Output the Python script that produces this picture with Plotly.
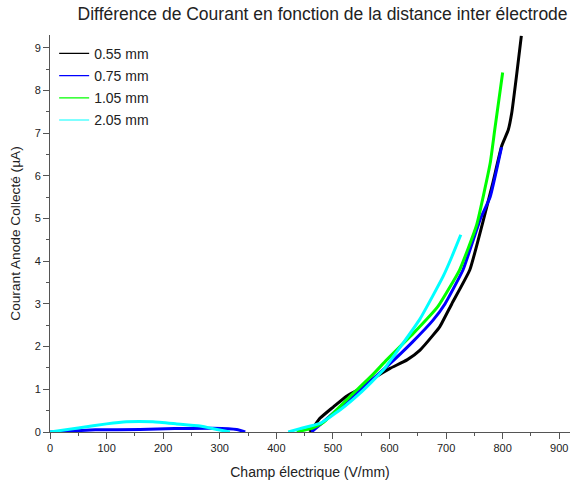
import plotly.graph_objects as go

# 0.55 mm
x_055 = [459, 465, 477, 501, 524, 548, 577, 601, 631, 654, 677, 689, 710, 742, 766, 782, 798, 810, 816, 825, 833]
y_055 = [0, 0.1, 0.32, 0.59, 0.84, 1.02, 1.30, 1.49, 1.69, 1.92, 2.27, 2.47, 3.0, 3.8, 4.97, 5.8, 6.69, 7.08, 7.47, 8.4, 9.28]

# 0.75 mm (low field part + high field part)
x_075_low = [0, 30, 80, 159, 220, 288, 330, 345]
y_075_low = [0, 0.02, 0.05, 0.06, 0.08, 0.09, 0.06, 0]
x_075 = [462, 480, 507, 542, 595, 640, 677, 698, 730, 760, 778, 798]
y_075 = [0, 0.2, 0.52, 0.91, 1.53, 2.1, 2.62, 3.0, 3.8, 4.97, 5.51, 6.67]

# 1.05 mm
x_105 = [436, 465, 483, 530, 571, 595, 642, 686, 724, 754, 778, 786, 800]
y_105 = [0, 0.1, 0.22, 0.83, 1.35, 1.69, 2.31, 2.95, 3.8, 4.85, 6.3, 7.08, 8.42]

# 2.05 mm (low field part + high field part)
x_205_low = [0, 53, 100, 135, 182, 224, 265, 295, 318]
y_205_low = [0, 0.1, 0.19, 0.24, 0.24, 0.19, 0.14, 0.06, 0]
x_205 = [421, 442, 477, 513, 548, 589, 624, 654, 677, 695, 710, 726]
y_205 = [0, 0.08, 0.2, 0.52, 0.91, 1.45, 2.08, 2.65, 3.2, 3.65, 4.1, 4.62]

labels = ['0.55 mm', '0.75 mm', '1.05 mm', '2.05 mm']
colors = ['#000000', '#0000ff', '#00ff00', '#00ffff']

fig = go.Figure()

curves = [
    (x_055, y_055, 0),
    (x_075_low, y_075_low, 1),
    (x_075, y_075, 1),
    (x_105, y_105, 2),
    (x_205_low, y_205_low, 3),
    (x_205, y_205, 3),
]
for xs, ys, k in curves:
    fig.add_trace(go.Scatter(x=xs, y=ys, mode='lines', showlegend=False,
                             line=dict(color=colors[k], width=3, shape='spline', smoothing=0.4)))

# thin legend entries
for k, lab in enumerate(labels):
    fig.add_trace(go.Scatter(x=[None], y=[None], mode='lines', name=lab,
                             legendgroup=lab, line=dict(color=colors[k], width=1.2)))

axis_style = dict(
    showline=True, linecolor='#555', linewidth=1,
    ticks='outside', ticklen=6, tickcolor='#555',
    showgrid=False, zeroline=False, automargin=False,
    tickfont=dict(size=11, color='#222'),
    minor=dict(ticks='outside', ticklen=3, tickcolor='#555'),
)

fig.update_xaxes(range=[0, 919], dtick=100, minor_dtick=50,
                 title=dict(text='Champ électrique (V/mm)', font=dict(size=14, color='#222'), standoff=13),
                 **axis_style)
fig.update_yaxes(range=[0, 9.3], dtick=1, minor_dtick=0.5,
                 title=dict(text='Courant Anode Collecté (µA)', font=dict(size=13.7, color='#222'), standoff=10),
                 **axis_style)

fig.update_layout(
    width=574, height=484,
    margin=dict(l=50, r=4, t=35, b=52),
    paper_bgcolor='white', plot_bgcolor='white',
    font=dict(family='Liberation Sans, Arial, sans-serif', color='#222'),
    title=dict(text='Différence de Courant en fonction de la distance inter électrode',
               x=0.562, xanchor='center', y=0.971, yanchor='middle',
               font=dict(size=17.5, color='#222')),
    legend=dict(x=0.008, y=0.993, xanchor='left', yanchor='top',
                bgcolor='rgba(0,0,0,0)', font=dict(size=14, color='#222'),
                tracegroupgap=1, itemwidth=30),
)

# remove the default page margin so the figure sits at the window corner
fig.write_html("out.html", config={'displayModeBar': False},
               post_script="document.body.style.margin='0';")
